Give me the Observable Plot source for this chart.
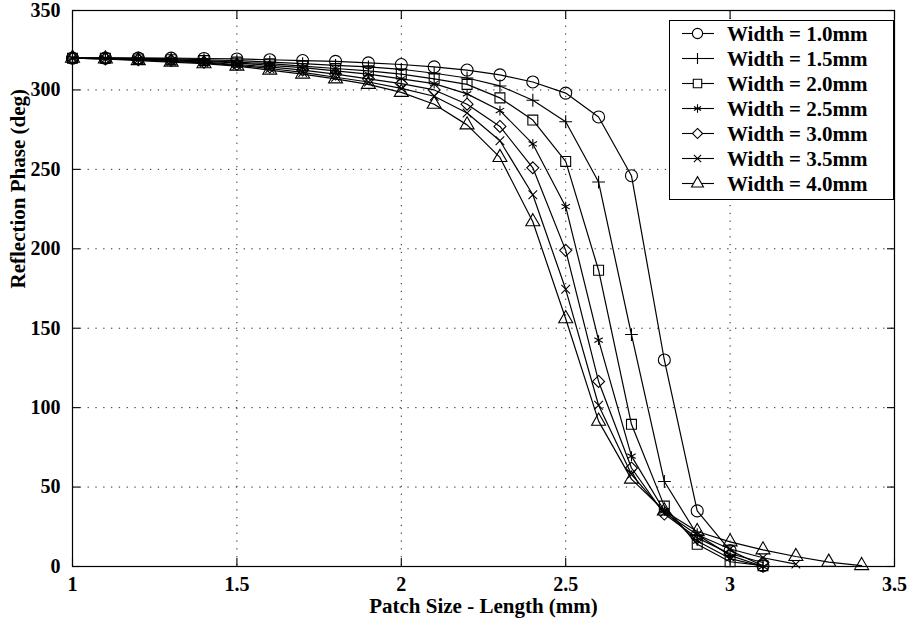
<!DOCTYPE html>
<html><head><meta charset="utf-8">
<script src="https://cdn.jsdelivr.net/npm/d3@7"></script>
<script src="https://cdn.jsdelivr.net/npm/@observablehq/plot@0.6"></script>
<style>
body{margin:0;background:#fff;}
#wrap{position:relative;width:911px;height:629px;}
#legend{position:absolute;left:669px;top:20px;width:225px;height:180px;box-sizing:border-box;border:1px solid #000;background:#fff;}
</style></head><body><div id="wrap"></div>
<script>
// Patch lengths (mm)
const lengths = [1.0,1.1,1.2,1.3,1.4,1.5,1.6,1.7,1.8,1.9,2.0,2.1,2.2,2.3,2.4,2.5,2.6,2.7,2.8,2.9,3.0,3.1,3.2,3.3,3.4];
const widths = ["Width = 1.0mm","Width = 1.5mm","Width = 2.0mm","Width = 2.5mm","Width = 3.0mm","Width = 3.5mm","Width = 4.0mm"];
const symbolNames = ["circle","plus","square","asterisk","diamond2","times","triangle"];
// Reflection phase (deg), one array per width, starting at length 1.0
const w10 = [320,320,320,320,319.8,319.5,319,318.5,318,317,316,314.5,312.5,309.5,305,298,283,246,130,35,10,0.5];
const w15 = [320,320,320,319.5,319,318.5,317.5,316.5,315.5,314.5,313,310.5,307.5,302.5,293.5,280,242,146,53.5,20,7,0];
const w20 = [320,320,319.5,319,318.5,317.5,316.5,315,313.5,312,310,307,303.5,295,281,255,186.5,89.5,38,14,3,0.5];
const w25 = [320,320,319.5,319,318,317,315.5,314,312,310,307,304,297.5,287,266,226.5,142.5,69.5,35,16,5,0];
const w30 = [320,319.5,319,318.5,317.5,316,314.5,312.5,310,307,304,300,291,277,251,199,116.5,62,33,18,8,2.5];
const w35 = [320,319.5,319,318,317,315.5,313.5,311,308,305,301,296,285.5,268,234,174.5,101.5,58,34,20,11,5.5,1.5];
const w40 = [320,319.5,318.5,317.5,316.5,315,312.5,310,307,303.5,298.5,291,278,257.5,217,156,91.5,55,35,22,15.5,10.5,6.3,2.7,0.6];
const xTicks = [1,1.5,2,2.5,3,3.5];
const xTickLabels = ["1","1.5","2","2.5","3","3.5"];
const yTicks = [0,50,100,150,200,250,300,350];
const yTickLabels = ["0","50","100","150","200","250","300","350"];
const xTitle = "Patch Size - Length (mm)";
const yTitle = "Reflection Phase (deg)";

const series = [w10,w15,w20,w25,w30,w35,w40];
const rows = [];
series.forEach((vals,i)=>vals.forEach((v,j)=>rows.push({series:widths[i], sym:symbolNames[i], x:lengths[j], y:v})));

// marker radius per symbol (style, not data)
const markerR = {circle:6, plus:4.2, square:5.6, asterisk:4.6, diamond2:5.4, times:4, triangle:5.2};

const font = "'Liberation Serif', 'Times New Roman', serif";
const grid = {stroke:"#000", strokeOpacity:0.85, strokeDasharray:"1.3,6.5", strokeWidth:1};
const tk = {tickFormat:()=>"", label:null, tickSize:8, strokeWidth:1.1};

const chart = Plot.plot({
  width:911, height:629, marginTop:10, marginBottom:63, marginLeft:72, marginRight:17,
  style:{fontFamily:font, fontWeight:"bold", fontSize:"20px", background:"white", color:"black", overflow:"visible"},
  x:{domain:[1,3.5], label:null},
  y:{domain:[0,350], label:null},
  symbol:{domain:symbolNames, range:symbolNames},
  marks:[
    Plot.gridX(xTicks.slice(1,-1), grid),
    Plot.gridY(yTicks.slice(1,-1), grid),
    Plot.axisX(xTicks, {anchor:"bottom", tickSize:0, tickPadding:10, tickFormat:(d,i)=>xTickLabels[i], fontSize:20, label:null}),
    Plot.axisY(yTicks, {anchor:"left", tickSize:0, tickPadding:12, tickFormat:(d,i)=>yTickLabels[i], fontSize:20, label:null}),
    Plot.axisX(xTicks, {anchor:"bottom", dy:-8, ...tk}),
    Plot.axisX(xTicks, {anchor:"top", dy:8, ...tk}),
    Plot.axisY(yTicks, {anchor:"left", dx:8, ...tk}),
    Plot.axisY(yTicks, {anchor:"right", dx:-8, ...tk}),
    Plot.line(rows, {x:"x", y:"y", z:"series", stroke:"black", strokeWidth:1.2}),
    ...symbolNames.map(s => Plot.dot(rows.filter(d=>d.sym===s), {x:"x", y:"y", symbol:"sym", r:markerR[s], stroke:"black", fill:"none", strokeWidth:1.1})),
    Plot.frame({stroke:"black", strokeWidth:1.2}),
    Plot.text([xTitle], {frameAnchor:"bottom", dy:46, text:d=>d, fontSize:21, fontWeight:"bold"}),
    Plot.text([yTitle], {frameAnchor:"left", dx:-54, rotate:-90, text:d=>d, fontSize:21, fontWeight:"bold"})
  ]
});
const wrap = document.getElementById("wrap");
wrap.appendChild(chart);

// Legend box
const symMap = {circle:d3.symbolCircle, plus:d3.symbolPlus, square:d3.symbolSquare, asterisk:d3.symbolAsterisk, diamond2:d3.symbolDiamond2, times:d3.symbolTimes, triangle:d3.symbolTriangle};
const leg = document.createElement("div");
leg.id = "legend";
wrap.appendChild(leg);
const svg = d3.select(leg).append("svg").attr("width",223).attr("height",178);
widths.forEach((w,i)=>{
  const cy = 12.5 + 25*i;
  const s = symbolNames[i];
  const r = markerR[s]*0.85;
  const g = svg.append("g").attr("transform",`translate(0,${cy})`);
  g.append("line").attr("x1",12).attr("x2",44).attr("y1",0).attr("y2",0).attr("stroke","black").attr("stroke-width",1.1);
  g.append("path").attr("d", d3.symbol(symMap[s], Math.PI*r*r)()).attr("transform","translate(27.5,0)").attr("fill","white").attr("stroke","black").attr("stroke-width",1.1);
  g.append("text").attr("x",57).attr("y",0).attr("dy","0.35em").attr("font-family",font).attr("font-weight","bold").attr("font-size",21).text(w);
});
</script></body></html>
